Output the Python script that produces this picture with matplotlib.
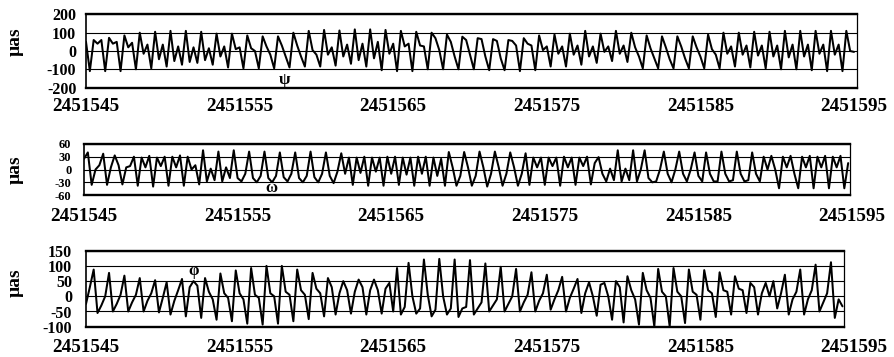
"""Nutation-angle residuals psi, omega, phi over 50 days (three stacked panels)."""

import numpy as np
import matplotlib
matplotlib.use("Agg")
import matplotlib.pyplot as plt

JD0 = 2451545
STEP = 0.25  # one sample every 6 hours

date_ticks = [2451545, 2451555, 2451565, 2451575, 2451585, 2451595]

psi_ticks = [-200, -100, 0, 100, 200]
omega_ticks = [-60, -30, 0, 30, 60]
phi_ticks = [-100, -50, 0, 50, 100, 150]

# values, micro-arcseconds, 4 samples per day
psi = [
    50, -110,
    60, 40, 60, -110, 72, 40, 50, -110, 85, 20, 45, -100, 100, -15, 35, -95,
    105, -45, 35, -85, 110, -55, 25, -75, 110, -60, 20, -65, 105, -50, 15, -75,
    95, -30, 25, -90, 95, 10, 20, -95, 85, 15, 0, -95, 80, 25, -20, -95,
    80, 30, -30, -90, 100, 30, -30, -85, 110, 5, -20, -85, 115, -20, 20, -80,
    112, -30, 35, -70, 118, -50, 40, -85, 118, -40, 50, -105, 115, -15, 40, -110,
    110, 25, 40, -110, 105, 30, 25, -100, 100, 70, 5, -100, 90, 50, -30, -100,
    78, 60, -20, -100, 70, 65, -30, -105, 65, 55, -40, -105, 60, 55, 30, -110,
    70, 40, 30, -105, 85, 5, 25, -85, 90, -15, 25, -85, 95, -20, 30, -75,
    110, -30, 25, -65, 95, -5, 25, -55, 110, -15, 30, -60, 100, 20, -30, -95,
    85, 15, -40, -95, 80, 20, -45, -95, 80, 25, -40, -95, 80, 20, -30, -95,
    90, 10, -20, -95, 100, -15, 25, -85, 100, -20, 30, -90, 105, -25, 30, -95,
    105, -30, 30, -100, 110, -35, 35, -100, 110, -30, 35, -105, 110, -15, 35, -110,
    110, -20, 35, -110,
    110, 0, -5,
]

omega = [
    25, 40, -36, 0, 10, 37, -36, 5, 33, 10, -35, 5, 8, 30, -38, 28,
    5, 32, -40, 28, 8, 30, -38, 30, 5, 33, -38, 30, 0, 10, -35, 45,
    -28, 2, -25, 42, -28, 5, -20, 45, -20, -28, -10, 42, -20, -30, -15, 42,
    -20, -30, -15, 40, -18, -28, -10, 40, -20, -30, -15, 42, -18, -30, -10, 40,
    -15, -32, -5, 38, -10, 28, -36, 28, -8, 30, -38, 28, -5, 28, -38, 30,
    -10, 30, -36, 28, -12, 28, -38, 30, -10, 30, -38, 28, -15, 25, -38, 41,
    5, -38, -15, 41, 5, -38, -15, 42, 5, -40, -10, 42, 5, -38, -10, 40,
    5, -38, -10, 38, -36, 28, 5, 28, -36, 28, 8, 28, -38, 30, 5, 28,
    -36, 28, 8, 30, -35, 15, 29, -10, -28, 2, -25, 45, -28, 2, -25, 45,
    -28, 0, 45, -20, -30, -28, 0, 42, -10, -30, 0, 42, -10, -28, 0, 40,
    -15, -28, 40, -10, -28, -28, 42, -10, -28, -25, 42, -10, -28, -25, 40, -10,
    -28, 30, 0, 32, 0, -44, 30, 5, 32, -10, -44, 30, 5, 32, -44, 30,
    5, 32, -44, 30, 5, 32, -44, 15,
]

phi = [
    -25, 30, 88, -55, -30, 0, 77, -50, -25, 5, 68, -50, -20, 5, 60, -50,
    -15, 10, 53, -53, -5, 46, -60, -15, 20, 57, -66, 30, 50, 35, -71, 60,
    15, -10, -77, 75, 10, -5, -82, 85, 10, -10, -90, 93, 5, -5, -93, 100,
    10, 0, -90, 100, 15, 5, -82, 88, 20, 5, -75, 77, 25, 10, -66, 60,
    30, -60, 10, 50, 20, -57, 15, 55, 30, -60, 20, 55, 20, -57, 25, 44,
    -50, 93, -60, -35, 110, 0, -57, -40, 121, 5, -66, -44, 123, 0, -60, -40,
    121, -68, -40, -35, 119, -60, -40, -20, 108, -50, -30, -10, 97, -50, -25, 0,
    90, -50, -20, 5, 79, -50, -15, 10, 71, -44, -10, 20, 64, -50, -5, 25,
    57, -55, 10, 46, 0, -64, 38, 44, 0, -77, 50, 30, -86, 66, 20, -10,
    -93, 77, 20, -5, -99, 90, 15, 0, -99, 93, 15, 0, -88, 88, 15, 5,
    -77, 86, 20, 10, -68, 79, 20, 15, -60, 66, 25, 20, -55, 44, 30, -60,
    10, 44, 0, 50, -40, 10, 71, -60, -10, 15, 88, -60, -10, 20, 104, -50,
    -20, 10, 112, -71, -10, -33,
]

# panel boxes in pixels of the 895x357 figure: left, top, right, bottom
FIG_W, FIG_H = 895, 357
BOXES = [(86, 14.4, 857, 87.6), (84, 143.9, 850, 195.1), (86, 250.7, 844, 326.7)]
PX_PER_DAY = 15.36

SERIF = "Liberation Serif"


def draw_panel(fig, box, values, yticks, symbol, symbol_xy, pad, date_offset,
               unit_y, ytick_size=11.5):
    """Draw one stacked time-series panel in the scanned-figure style."""
    left, top, right, bottom = box
    ax = fig.add_axes([left / FIG_W, 1 - bottom / FIG_H,
                       (right - left) / FIG_W, (bottom - top) / FIG_H])

    times = JD0 + STEP * np.arange(len(values))
    ax.plot(times, values, color="black", linewidth=1.45,
            solid_joinstyle="round", solid_capstyle="round")

    ax.set_xlim(JD0, JD0 + (right - left) / PX_PER_DAY)
    ax.set_ylim(yticks[0], yticks[-1])
    ax.set_yticks(yticks)
    ax.set_yticklabels([str(t) for t in yticks], fontfamily=SERIF,
                       fontweight="bold", fontsize=ytick_size)
    ax.set_xticks([])
    ax.tick_params(axis="y", length=0, pad=pad)
    ax.yaxis.grid(True, color="black", linewidth=0.8)
    ax.set_axisbelow(True)

    for side, lw in (("top", 1.7), ("bottom", 1.7), ("left", 1.2), ("right", 0.9)):
        ax.spines[side].set_linewidth(lw)
        ax.spines[side].set_color("black")

    for d in date_ticks:
        ax.annotate(str(d), xy=(d, 0), xycoords=("data", "axes fraction"),
                    xytext=(0, -date_offset), textcoords="offset pixels",
                    ha="center", va="center", fontfamily=SERIF,
                    fontweight="bold", fontsize=13.8, annotation_clip=False)

    ax.text(symbol_xy[0], symbol_xy[1], symbol, ha="center", va="center",
            fontfamily=SERIF, fontweight="bold", fontsize=12)

    fig.text(15 / FIG_W, 1 - unit_y / FIG_H, "µas", rotation=90,
             ha="center", va="center", fontfamily=SERIF,
             fontweight="bold", fontsize=14)
    return ax


plt.rcParams["axes.unicode_minus"] = False
fig = plt.figure(figsize=(FIG_W / 100, FIG_H / 100), dpi=100)

draw_panel(fig, BOXES[0], psi, psi_ticks, "ψ", (2451557.9, -160), 7, 19, 42)
draw_panel(fig, BOXES[1], omega, omega_ticks, "ω", (2451557.2, -43), 9, 21, 170,
           ytick_size=9)
draw_panel(fig, BOXES[2], phi, phi_ticks, "φ", (2451552.0, 82), 10, 21, 283)

fig.savefig("out.png", dpi=100)
